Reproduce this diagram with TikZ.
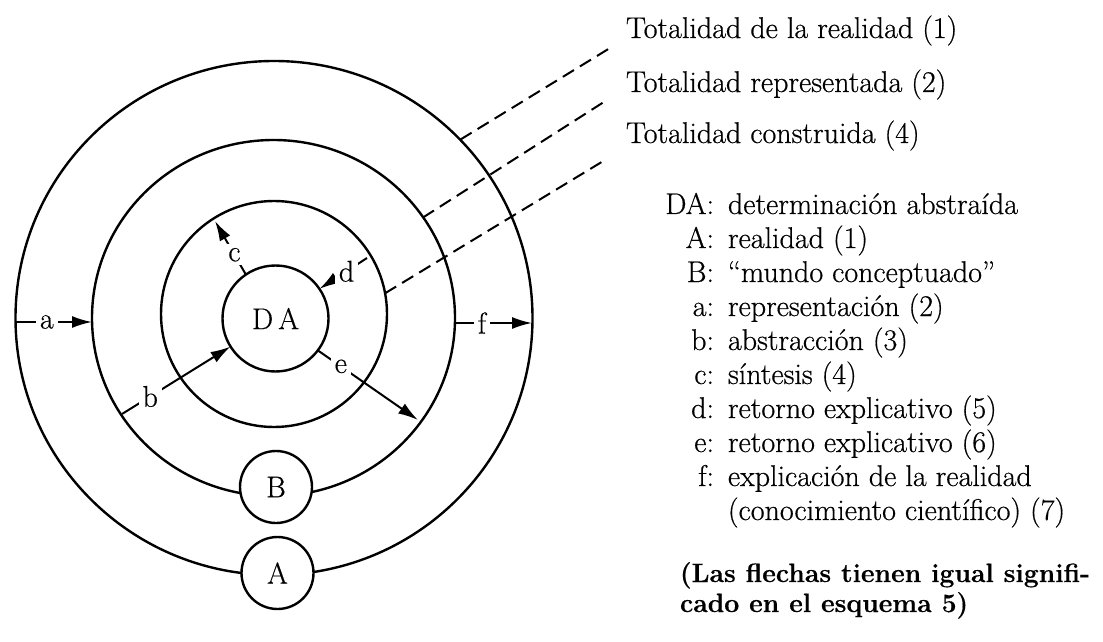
\documentclass[tikz,border=0pt]{standalone}
\usepackage{fontspec}
\setmainfont{Latin Modern Roman}[FakeBold=0.5]
\usetikzlibrary{arrows.meta}
\begin{document}
\begin{tikzpicture}[x=1pt,y=1pt,
  font=\fontsize{30}{34}\selectfont,
  ringline/.style={draw=drawColor,line width=2.4pt},
  arrowline/.style={draw=drawColor,line width=2.0pt,-{Latex[length=20pt,width=12pt]}},
  dashline/.style={draw=drawColor,line width=2.0pt,dash pattern=on 13pt off 7pt},
  smallcirc/.style={circle,draw=drawColor,fill=fillColor,line width=2.4pt,inner sep=0pt,outer sep=0pt,minimum size=72pt},
  lbl/.style={fill=fillColor,inner sep=4pt,text=drawColor},
  txt/.style={text=drawColor,anchor=base west,inner sep=0pt,outer sep=0pt,scale=1.00},
  key/.style={text=drawColor,anchor=base east,inner sep=0pt,outer sep=0pt,scale=1.00}]
\definecolor{fillColor}{RGB}{255,255,255}
\definecolor{drawColor}{RGB}{0,0,0}
\path[use as bounding box,fill=fillColor] (0,0) rectangle (1103,641);

\path[ringline] (274.0,323.0) ellipse [x radius=258.5, y radius=257.0];

\path[ringline] (273.5,323.0) ellipse [x radius=181.5, y radius=178.0];

\path[ringline] (274.0,327.0) circle (113.0);

\node[smallcirc,minimum size=106pt] (DA) at (275.5,322.5) {D\,A};

\node[smallcirc] (B) at (276.0,154.0) {B};

\node[smallcirc] (A) at (277.5,68.0) {A};

\coordinate (a0) at ( 15.5,319.0);
\coordinate (a1) at ( 92.0,319.0);
\coordinate (f0) at (455.0,318.0);
\coordinate (f1) at (532.0,318.0);
\coordinate (b0) at (122.0,227.0);
\coordinate (c1) at (215.0,420.0);
\coordinate (d0) at (367.0,383.0);
\coordinate (e1) at (418.0,221.0);

\path[arrowline] (a0) -- node[lbl,pos=0.41] {a} (a1);

\path[arrowline] (f0) -- node[lbl,pos=0.35] {f} (f1);

\path[arrowline] (b0) -- node[lbl,pos=0.26] {b} (DA.212);

\path[arrowline] (DA.124) -- node[lbl,pos=0.37] {c} (c1);

\path[arrowline] (d0) -- node[lbl,pos=0.43] {d} (DA.34);

\path[arrowline] (DA.-37) -- node[lbl,pos=0.23] {e} (e1);

\coordinate (real0) at (460.5,501.5);
\coordinate (real1) at (610.0,593.0);
\coordinate (repr0) at (423.0,423.5);
\coordinate (repr1) at (607.0,541.0);
\coordinate (cons0) at (385.0,347.7);
\coordinate (cons1) at (605.0,481.0);

\path[dashline] (real0) -- (real1);

\path[dashline] (repr0) -- (repr1);

\path[dashline] (cons0) -- (cons1);

\node[txt] (realtxt) at (626,603) {Totalidad de la realidad (1)};

\node[txt] (reprtxt) at (626,549) {Totalidad representada (2)};

\node[txt] (constxt) at (626,498) {Totalidad construida (4)};

\node[key] at (714,427) {DA:};
\node[txt] at (728,427) {determinación abstraída};
\node[key] at (714,393) {A:};
\node[txt] at (728,393) {realidad (1)};
\node[key] at (714,359) {B:};
\node[txt] at (728,359) {“mundo conceptuado”};
\node[key] at (714,325) {a:};
\node[txt] at (728,325) {representación (2)};
\node[key] at (714,291) {b:};
\node[txt] at (728,291) {abstracción (3)};
\node[key] at (714,257) {c:};
\node[txt] at (728,257) {síntesis (4)};
\node[key] at (714,223) {d:};
\node[txt] at (728,223) {retorno explicativo (5)};
\node[key] at (714,189) {e:};
\node[txt] at (728,189) {retorno explicativo (6)};
\node[key] at (714,155) {f:};
\node[txt] at (728,155) {explicación de la realidad};
\node[txt] at (728,121) {(conocimiento científico) (7)};

\node[txt,font=\fontsize{26.5}{30}\selectfont\bfseries] at (680,59) {(Las flechas tienen igual signifi-};
\node[txt,font=\fontsize{26.5}{30}\selectfont\bfseries] at (680,29) {cado en el esquema 5)};
\end{tikzpicture}
\end{document}
